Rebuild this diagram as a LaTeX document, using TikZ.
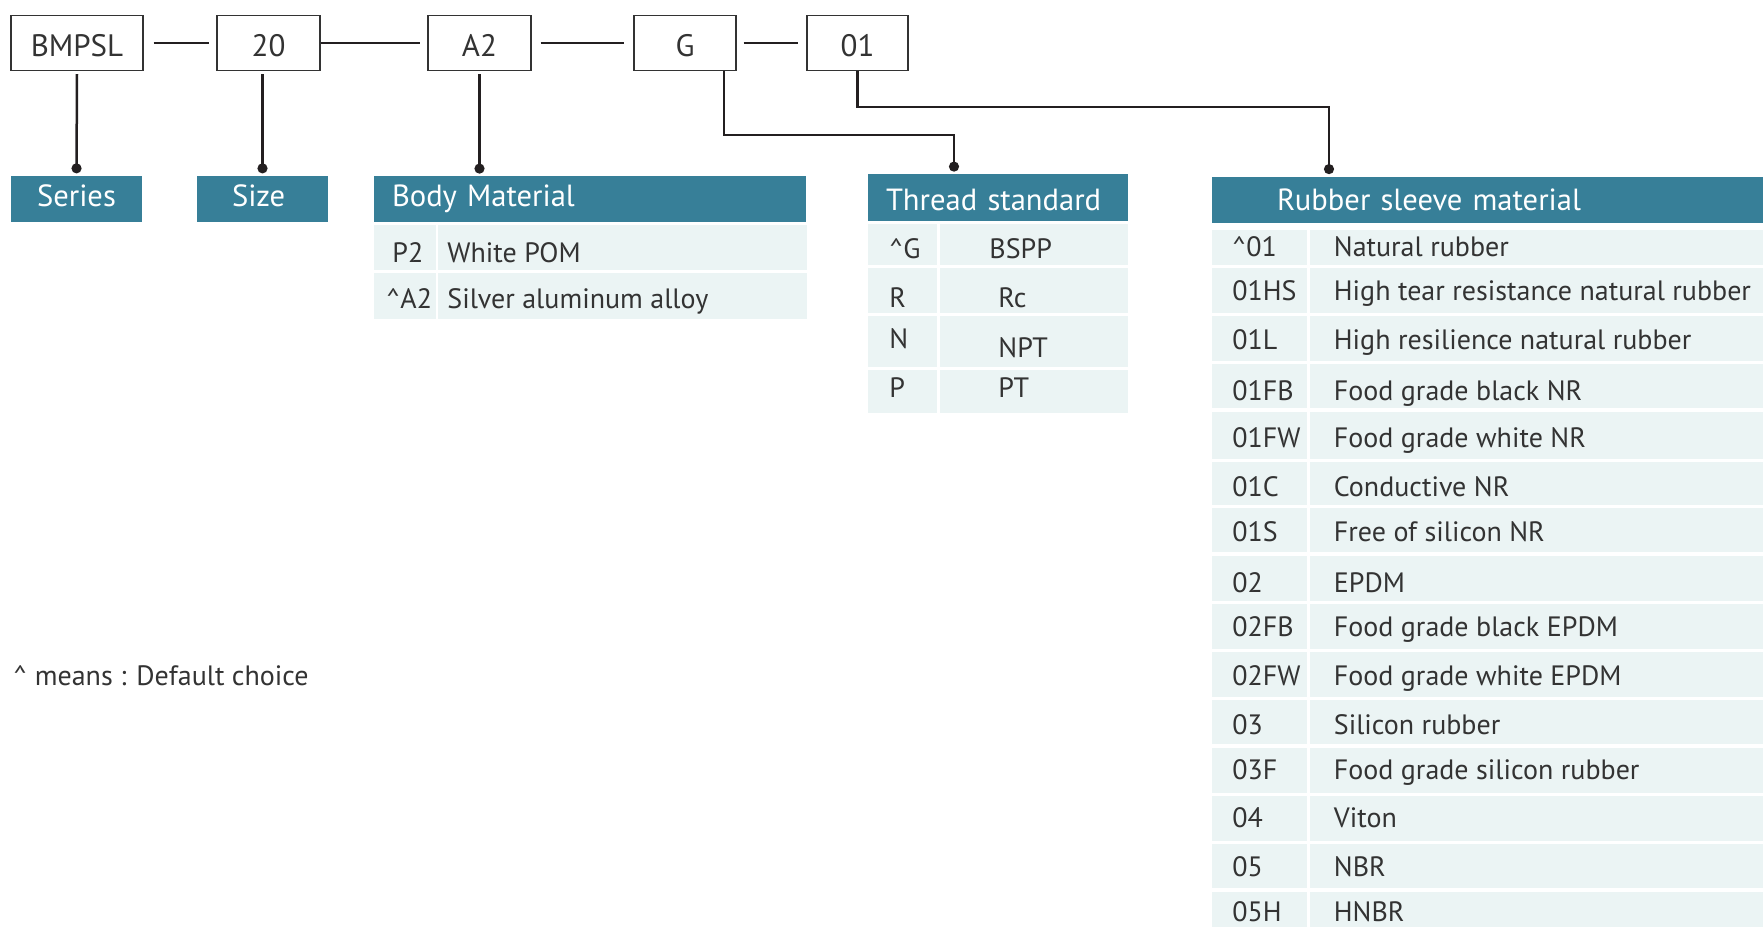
\documentclass[tikz,border=0pt]{standalone}
\usepackage{fontspec}
\setmainfont{PT Sans}
\usetikzlibrary{calc,arrows.meta}
\definecolor{teal}{RGB}{55,127,152}
\definecolor{cellbg}{RGB}{235,244,244}
\definecolor{txt}{RGB}{51,51,51}
\definecolor{ln}{RGB}{35,31,32}
\begin{document}
\begin{tikzpicture}[x=0.5pt,y=-0.5pt,
  every node/.style={font=\fontsize{14}{17}\selectfont, text=txt},
  codebox/.style={draw=txt, line width=0.6pt, fill=white, minimum height=27.5pt, inner sep=0pt, font=\fontsize{15.5}{18}\selectfont, text height=13pt, text depth=0pt},
  hdr/.style={fill=teal, text=white, minimum height=23pt, inner ysep=0pt, font=\fontsize{15.3}{18}\selectfont},
  conn/.style={draw=ln, line width=1.25pt},
  dotted end/.style={-{Circle[length=5pt,width=5pt]}},
  lbl/.style={anchor=base west, inner sep=0pt},
]
\useasboundingbox (0,0) rectangle (1763,927);

% top code boxes
\node[codebox, minimum width=66pt]   (bmpsl) at (77,43)    {BMPSL};
\node[codebox, minimum width=51.5pt] (b20)   at (268.5,43) {20};
\node[codebox, minimum width=51.5pt] (ba2)   at (479.5,43) {A2};
\node[codebox, minimum width=51pt]   (bg)    at (685,43)   {G};
\node[codebox, minimum width=50.5pt] (b01)   at (857.5,43) {01};

\draw[conn, shorten <=5pt, shorten >=3.5pt] (bmpsl.east) -- (b20.west);
\draw[conn, shorten <=0pt, shorten >=3.5pt] (b20.east) -- (ba2.west);
\draw[conn, shorten <=4.5pt, shorten >=4.5pt] (ba2.east) -- (bg.west);
\draw[conn, shorten <=3.5pt, shorten >=4pt] (bg.east) -- (b01.west);

% headers
\node[hdr, minimum width=65.5pt, text height=10.7pt, text depth=3pt] (series) at (76.5,198.75) {Series};
\node[hdr, minimum width=65.5pt, text height=10.7pt, text depth=3pt, inner xsep=0pt, text width=65.5pt, align=center] (size) at (262.5,198.75) {\hspace*{-3.9pt}Size};
\node[hdr, inner xsep=9pt, text width=198pt, align=left] (body) at (590,199) {Body Material};
\node[hdr, inner xsep=9pt, text width=112pt, align=left, minimum height=23.25pt, text height=12.9pt, text depth=0pt] (thread) at (998,197.25) {Thread standard};
\node[hdr, inner xsep=32.5pt, text width=210.5pt, align=left] (rubber) at (1487.5,199.5) {Rubber sleeve material};

% connectors to headers
\draw[conn, dotted end] ($(bmpsl.south)+(0,3)$) -- ($(series.north)+(0,-2)$);
\draw[conn, dotted end] ($(size.north |- b20.south)+(0,3)$) -- ($(size.north)+(0,-2)$);
\draw[conn, dotted end] ($(ba2.south)+(0,3)$) -- ($(ba2.south |- body.north)+(0,-2)$);
\coordinate (kg1) at (724,71);
\coordinate (kg2) at (954,135);
\draw[conn, dotted end] (kg1) |- (kg2) -- ($(kg2 |- thread.north)+(0,-2)$);
\coordinate (k01) at (1329,107);
\draw[conn, dotted end] (b01.south) |- (k01) -- ($(k01 |- rubber.north)+(0,-2)$);

% body material table
\fill[cellbg] (374,225) rectangle (436,270);
\fill[cellbg] (438,225) rectangle (807,270);
\fill[cellbg] (374,273) rectangle (436,319);
\fill[cellbg] (438,273) rectangle (807,319);
\node[lbl] (bc1) at (392,262) {P2};
\node[lbl] (bd1) at (447,262) {White POM};
\node[lbl] (bc2) at (386,308) {\textasciicircum A2};
\node[lbl] (bd2) at (447,308) {Silver aluminum alloy};

% thread table
\foreach \ya/\yb in {224/265,268/313,316/367,370/413}{
  \fill[cellbg] (868,\ya) rectangle (937,\yb);
  \fill[cellbg] (940,\ya) rectangle (1128,\yb);
}
\node[lbl] (tc1) at (889,258) {\textasciicircum G};
\node[lbl] (td1) at (989,258) {BSPP};
\node[lbl] (tc2) at (889,307) {R};
\node[lbl] (td2) at (998,307) {Rc};
\node[lbl] (tc3) at (889,348) {N};
\node[lbl] (td3) at (998,357) {NPT};
\node[lbl] (tc4) at (889,397) {P};
\node[lbl] (td4) at (998,397) {PT};

% rubber table
\foreach \ya/\yb/\yt/\c/\d [count=\i] in {
  230/265/246.5/\textasciicircum 01/Natural rubber,
  268/313/290/01HS/High tear resistance natural rubber,
  316/361/339.5/01L/High resilience natural rubber,
  364/408/390/01FB/Food grade black NR,
  412/459/437/01FW/Food grade white NR,
  462/505/486/01C/Conductive NR,
  508/552/531/01S/Free of silicon NR,
  556/601/582/02/EPDM,
  604/649/626/02FB/Food grade black EPDM,
  652/697/675/02FW/Food grade white EPDM,
  700/744/724/03/Silicon rubber,
  748/793/769/03F/Food grade silicon rubber,
  796/841/817/04/Viton,
  844/888/866/05/NBR,
  892/927/911/05H/HNBR}{
  \fill[cellbg] (1212,\ya) rectangle (1307,\yb);
  \fill[cellbg] (1310,\ya) rectangle (1763,\yb);
  \node[lbl] (rc\i) at (1232,\yt+10) {\c};
  \node[lbl] (rd\i) at (1333.5,\yt+10) {\d};
}

% legend
\node[lbl] (legend) at (13,685) {\textasciicircum\ means : Default choice};
\end{tikzpicture}
\end{document}
